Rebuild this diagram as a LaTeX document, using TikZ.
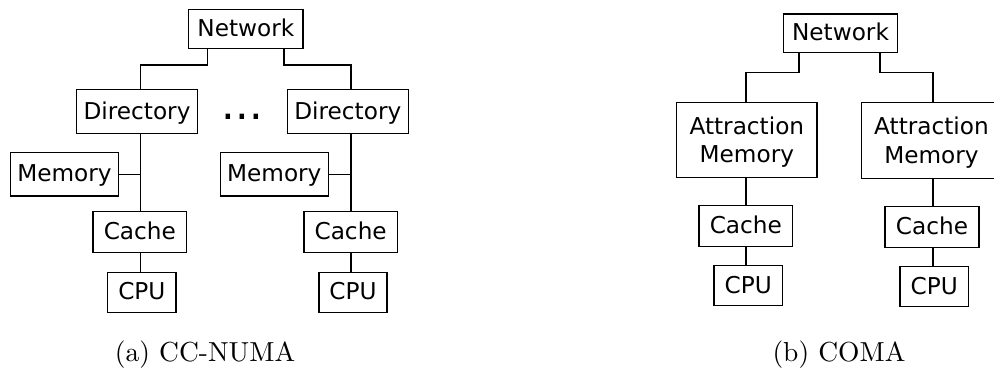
\documentclass[tikz,border=0pt]{standalone}
\usepackage{fontspec}
\newfontfamily\dv{DejaVu Sans}
\newfontfamily\capfont[Extension=.otf]{lmroman10-regular}
\begin{document}
\begin{tikzpicture}[x=1pt,y=-1pt,
  box/.style={draw, line width=1.1pt, inner sep=0pt,
    font=\dv\fontsize{23.2}{29}\selectfont,
    text height=17.4pt, text depth=2.3pt},
  tallbox/.style={draw, line width=1.1pt, inner sep=0pt, align=center,
    font=\dv\fontsize{23.2}{28.5}\selectfont, text depth=0.7pt},
  wire/.style={line width=1.1pt},
  caption/.style={font=\capfont\fontsize{27.5}{33}\selectfont, anchor=base}]
\useasboundingbox (0,0) rectangle (994,379);
\clip (0,0) rectangle (994,379);

% ---------- CC-NUMA ----------
\node[box, minimum width=114.3, minimum height=39]   (netL)   at (245.85,28.8)  {Network};
\node[box, minimum width=120.6, minimum height=44.4] (dirL)   at (137,111.5)    {Directory};
\node[box, minimum width=121,   minimum height=44.4] (dirR)   at (347.8,111.5)  {Directory};
\node[box, minimum width=107.6, minimum height=43.7] (memL)   at (64.5,174.15)  {Memory};
\node[box, minimum width=108,   minimum height=43.7] (memR)   at (274.3,174.15) {Memory};
\node[box, minimum width=93.7,  minimum height=40.6] (cacheL) at (139.85,232)   {Cache};
\node[box, minimum width=93.3,  minimum height=40.6] (cacheR) at (350.65,232)   {Cache};
\node[box, minimum width=68.3,  minimum height=40]   (cpuL)   at (141.85,292.3) {CPU};
\node[box, minimum width=68,    minimum height=40]   (cpuR)   at (353,292.3)    {CPU};
\node[font=\dv\fontsize{43}{50}\selectfont, anchor=base, inner sep=0pt] (dots) at (242.2,120) {...};

\coordinate (colL) at (140.5,0);
\coordinate (colR) at (351,0);
\coordinate (jL) at (207.7,65);
\coordinate (jR) at (284,65);

\draw[wire] (netL.south -| jL) -- (jL) -| (dirL.north -| colL);
\draw[wire] (netL.south -| jR) -- (jR) -| (dirR.north -| colR);
\draw[wire] (dirL.south -| colL) -- (cacheL.north -| colL);
\draw[wire] (dirR.south -| colR) -- (cacheR.north -| colR);
\draw[wire] (memL.east) -- (memL.east -| colL);
\draw[wire] (memR.east) -- (memR.east -| colR);
\draw[wire] (cacheL.south -| colL) -- (cpuL.north -| colL);
\draw[wire] (cacheR.south -| colR) -- (cpuR.north -| colR);

\node[caption] (capA) at (205,362) {(a) CC-NUMA};

% ---------- COMA ----------
\node[box, minimum width=114.4, minimum height=38.7] (netC)    at (840.5,33.35)  {Network};
\node[tallbox, minimum width=140.3, minimum height=75.4] (amL) at (746.85,140)   {Attraction\\Memory};
\node[tallbox, minimum width=140.3, minimum height=75.4] (amR) at (931.5,140.5)  {Attraction\\Memory};
\node[box, minimum width=93.7,  minimum height=41]   (cacheCL) at (745.85,226.2) {Cache};
\node[box, minimum width=94,    minimum height=41]   (cacheCR) at (932,227.2)    {Cache};
\node[box, minimum width=68.3,  minimum height=40]   (cpuCL)   at (748.15,285.7) {CPU};
\node[box, minimum width=68.3,  minimum height=40]   (cpuCR)   at (934.15,286.7) {CPU};

\coordinate (colCL) at (746,0);
\coordinate (colCR) at (933,0);
\coordinate (jCL) at (799,72.3);
\coordinate (jCR) at (880,72.3);

\draw[wire] (netC.south -| jCL) -- (jCL) -| (amL.north -| colCL);
\draw[wire] (netC.south -| jCR) -- (jCR) -| (amR.north -| colCR);
\draw[wire] (amL.south -| colCL) -- (cacheCL.north -| colCL);
\draw[wire] (amR.south -| colCR) -- (cacheCR.north -| colCR);
\draw[wire] (cacheCL.south -| colCL) -- (cpuCL.north -| colCL);
\draw[wire] (cacheCR.south -| colCR) -- (cpuCR.north -| colCR);

\node[caption] (capB) at (839,362) {(b) COMA};
\end{tikzpicture}
\end{document}
